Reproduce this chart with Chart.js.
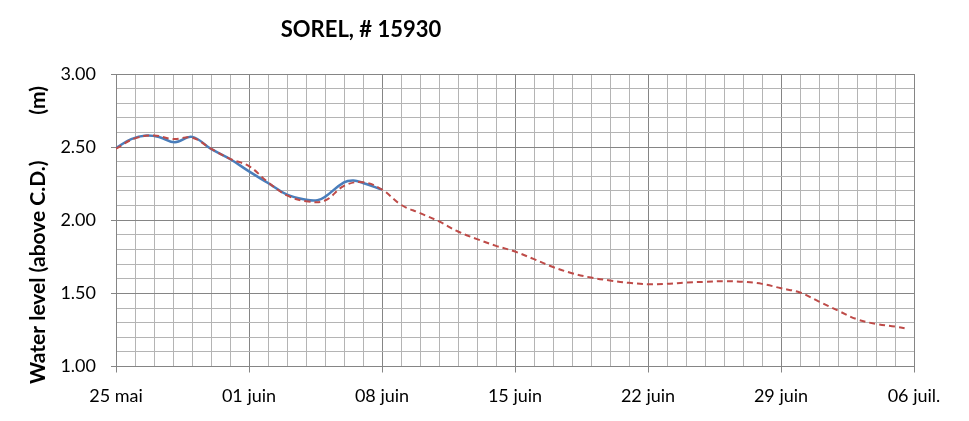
<!DOCTYPE html>
<html>
<head>
<meta charset="utf-8">
<script src="https://cdn.jsdelivr.net/npm/chart.js@4"></script>
<style>
html,body{margin:0;padding:0;background:#fff;}
#wrap{width:969px;height:421px;position:relative;}
</style>
</head>
<body>
<div id="wrap"><canvas id="c" width="969" height="421"></canvas></div>
<script>
// Day offsets from 25 mai
const tickLabels = ['25 mai','01 juin','08 juin','15 juin','22 juin','29 juin','06 juil.'];
const obsDays   = [0, 0.8, 1.6, 2.3, 3.1, 4.0, 5, 6, 7, 8, 9, 10, 10.6, 11, 12, 12.5, 13, 14];
const obsLevels = [2.494, 2.555, 2.579, 2.568, 2.533, 2.570, 2.488, 2.419, 2.334, 2.255, 2.175, 2.140, 2.136, 2.160, 2.259, 2.272, 2.255, 2.209];
const fcDays    = [0, 1, 2, 3, 4, 5, 6, 7, 8, 9, 10, 11, 12, 13, 14, 15, 16, 17, 18, 19, 20, 21, 22, 23, 24, 25, 26, 27, 28, 29, 30, 31, 32, 33, 34, 35, 36, 37, 38, 39, 40, 41, 41.6];
const fcLevels  = [2.49, 2.56, 2.58, 2.555, 2.565, 2.49, 2.42, 2.37, 2.26, 2.17, 2.13, 2.135, 2.235, 2.26, 2.21, 2.106, 2.049, 1.992, 1.923, 1.871, 1.825, 1.786, 1.734, 1.680, 1.638, 1.608, 1.588, 1.572, 1.563, 1.565, 1.574, 1.579, 1.583, 1.579, 1.565, 1.535, 1.506, 1.444, 1.382, 1.323, 1.291, 1.273, 1.259];

const MINOR = '#b4b4b4', MAJOR = '#858585';
const FONT = 'Lato, "Open Sans", sans-serif';

const obsData = obsDays.map((d,i)=>({x:d, y:obsLevels[i]}));
const fcData = fcDays.map((d,i)=>({x:d, y:fcLevels[i]}));

const textPlugin = {
  id:'texts',
  afterDraw(chart){
    const ctx = chart.ctx;
    ctx.save();
    ctx.fillStyle = '#000';
    ctx.font = 'bold 22px ' + FONT;
    ctx.textAlign = 'center';
    ctx.textBaseline = 'middle';
    ctx.fillText('SOREL, # 15930', 361, 30);
    ctx.font = 'bold 21px ' + FONT;
    ctx.save();
    ctx.translate(38, 384);
    ctx.rotate(-Math.PI/2);
    ctx.textAlign = 'left';
    ctx.fillText('Water level (above C.D.)', 0, 0);
    ctx.restore();
    ctx.save();
    ctx.translate(38, 86);
    ctx.rotate(-Math.PI/2);
    ctx.textAlign = 'right';
    ctx.fillText('(m)', 0, 0);
    ctx.restore();
    ctx.restore();
  }
};

const isMajorY = v => Math.abs(v*2 - Math.round(v*2)) < 1e-6;
const isMajorX = v => Math.abs(v/7 - Math.round(v/7)) < 1e-6;

new Chart(document.getElementById('c'), {
  type:'line',
  data:{
    datasets:[
      {label:'Prévision', data:fcData, borderColor:'#be4b48', borderWidth:2, borderDash:[6,4], pointRadius:0, tension:0.4, fill:false, order:0},
      {label:'Observé', data:obsData, borderColor:'#4a7ebb', borderWidth:2.5, pointRadius:0, tension:0.4, fill:false, order:1}
    ]
  },
  options:{
    responsive:false,
    animation:false,
    layout:{padding:{left:0, right:55, top:74, bottom:0}},
    plugins:{legend:{display:false}, tooltip:{enabled:false}, title:{display:false}},
    scales:{
      x:{
        type:'linear', min:0, max:42,
        afterFit(s){ s.height = 54.5; },
        border:{display:true, color:MAJOR},
        grid:{
          color:c=> isMajorX(c.tick.value) ? MAJOR : MINOR,
          tickColor:c=> isMajorX(c.tick.value) ? MAJOR : 'rgba(0,0,0,0)',
          tickLength:6, lineWidth:1
        },
        ticks:{
          stepSize:1, autoSkip:false, maxRotation:0, padding:13,
          color:'#000', font:{family:FONT, size:18},
          callback:v=> isMajorX(v) ? tickLabels[Math.round(v/7)] : ''
        }
      },
      y:{
        min:1, max:3,
        afterFit(s){ s.width = 116; },
        border:{display:true, color:MAJOR},
        grid:{
          color:c=> isMajorY(c.tick.value) ? MAJOR : MINOR,
          tickColor:c=> isMajorY(c.tick.value) ? MAJOR : 'rgba(0,0,0,0)',
          tickLength:5, lineWidth:1
        },
        ticks:{
          stepSize:0.1, autoSkip:false, padding:15,
          color:'#000', font:{family:FONT, size:18},
          callback:v=> isMajorY(v) ? v.toFixed(2) : ''
        }
      }
    }
  },
  plugins:[textPlugin]
});
</script>
</body>
</html>
